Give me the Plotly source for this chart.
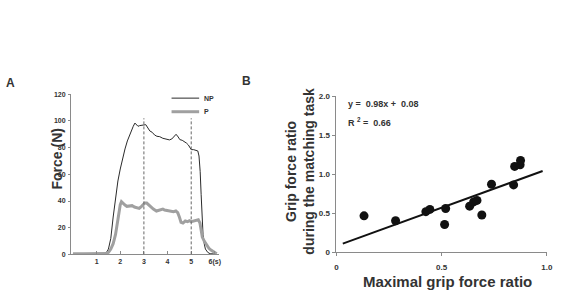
import plotly.graph_objects as go

# ---------------- Panel A data ----------------
t_np = [0.0, 0.5, 1.0, 1.3, 1.4, 1.5, 1.6, 1.7, 1.8, 1.9, 2.0, 2.1, 2.2, 2.3, 2.4, 2.5, 2.55,
        2.62, 2.68, 2.75, 2.82, 2.9, 3.0, 3.08, 3.15, 3.25, 3.35, 3.45, 3.55, 3.67, 3.8, 3.9,
        4.0, 4.08, 4.18, 4.28, 4.36, 4.45, 4.52, 4.62, 4.72, 4.8, 4.88, 4.95, 5.0, 5.1, 5.22,
        5.28, 5.33, 5.38, 5.42, 5.46, 5.5, 5.55, 5.6, 5.7, 5.8, 6.0]
f_np = [0.5, 0.5, 0.5, 0.5, 1, 4, 12, 28, 44, 55, 64, 72, 79, 85, 90, 94, 96,
        98.4, 97, 96, 96.5, 96.5, 97, 97.2, 95, 92.5, 91.5, 89.5, 88.5, 88.2, 87, 86.5,
        86, 85.8, 86.5, 88.5, 90, 88, 86, 85.5, 84.5, 83.4, 82, 80, 78.5, 78.5, 78,
        77.5, 73.7, 62, 45, 28, 15, 8, 4, 1.5, 0.5, 0.3]

t_p = [0.0, 0.5, 1.0, 1.4, 1.5, 1.6, 1.7, 1.8, 1.9, 1.95, 2.0, 2.05, 2.1, 2.2, 2.28, 2.4,
       2.5, 2.6, 2.7, 2.8, 2.9, 3.04, 3.12, 3.2, 3.3, 3.4, 3.53, 3.62, 3.7, 3.8, 3.875, 3.95,
       4.05, 4.15, 4.25, 4.35, 4.43, 4.5, 4.57, 4.65, 4.75, 4.85, 4.92, 5.0, 5.1, 5.2, 5.3,
       5.37, 5.47, 5.55, 5.65, 5.75, 5.85, 5.95, 6.03, 6.08]
f_p = [0.5, 0.5, 0.5, 0.5, 1.5, 4, 8, 15, 26, 33, 37.3, 39.5, 38.5, 37, 36, 36,
       36.5, 35.5, 35, 34.5, 36, 38.5, 38.5, 37, 35.5, 34, 32.5, 33, 34, 34, 33.2, 33,
       32.5, 32, 32, 32.5, 31.3, 28, 24, 23.5, 25, 24.5, 25.2, 24.5, 25, 25.7, 26,
       23.5, 13, 10, 7, 4.6, 3, 1.8, 0.7, 0.5]

a_xticks = [1, 2, 3, 4, 5, 6]
a_xticklabels = ["1", "2", "3", "4", "5", "6(s)"]
a_yticks = [0, 20, 40, 60, 80, 100, 120]
a_vlines = [3, 5]
a_vline_top = 102

# ---------------- Panel B data ----------------
b_x = [0.131, 0.281, 0.425, 0.444, 0.514, 0.519, 0.633, 0.652, 0.668, 0.691, 0.737,
       0.842, 0.847, 0.873, 0.875]
b_y = [0.466, 0.403, 0.519, 0.548, 0.354, 0.56, 0.59, 0.644, 0.664, 0.477, 0.871,
       0.862, 1.10, 1.12, 1.175]
fit_slope = 0.98
fit_intercept = 0.08
fit_x = [0.03, 0.98]
fit_y = [fit_slope * v + fit_intercept for v in fit_x]
b_xticks = [0, 0.5, 1.0]
b_xticklabels = ["0", "0.5", "1.0"]
b_yticks = [0, 0.5, 1.0, 1.5, 2.0]
b_yticklabels = ["0", "0.5", "1.0", "1.5", "2.0"]

W, H = 562, 305
def px(x):
    return x / W
def py(y):
    return (H - y) / H

FONT = "Liberation Sans, Arial, sans-serif"
TXT = "#333333"
AX = "#8a8a8a"

fig = go.Figure()

fig.add_trace(go.Scatter(x=t_np, y=f_np, mode="lines", line=dict(color="#2a2a2a", width=1),
                         xaxis="x", yaxis="y", showlegend=False, hoverinfo="skip"))
fig.add_trace(go.Scatter(x=t_p, y=f_p, mode="lines", line=dict(color="#a0a0a0", width=3),
                         xaxis="x", yaxis="y", showlegend=False, hoverinfo="skip"))

fig.add_trace(go.Scatter(x=fit_x, y=fit_y, mode="lines", line=dict(color="#111111", width=2),
                         xaxis="x2", yaxis="y2", showlegend=False, hoverinfo="skip"))
fig.add_trace(go.Scatter(x=b_x, y=b_y, mode="markers",
                         marker=dict(color="#111111", size=9),
                         xaxis="x2", yaxis="y2", showlegend=False, hoverinfo="skip"))

for v in a_vlines:
    fig.add_shape(type="line", xref="x", yref="y", x0=v, x1=v, y0=0, y1=a_vline_top,
                  line=dict(color="#666666", width=1, dash="3px,2px"))

# legend of panel A
leg = [("NP", 97, "#2a2a2a", 1), ("P", 111, "#a0a0a0", 3)]
for name, yy, col, w in leg:
    fig.add_shape(type="line", xref="paper", yref="paper", x0=px(172), x1=px(200),
                  y0=py(yy), y1=py(yy), line=dict(color=col, width=w))
    fig.add_annotation(x=px(203), y=py(yy), xref="paper", yref="paper", text=name,
                       showarrow=False, xanchor="left", yanchor="middle",
                       font=dict(family=FONT, size=7, color=TXT, weight="bold"))

tickA = dict(family=FONT, size=7, color=TXT, weight="bold")
tickB = dict(family=FONT, size=8, color=TXT, weight="bold")

fig.update_layout(
    width=W, height=H, margin=dict(l=0, r=0, t=0, b=0),
    paper_bgcolor="white", plot_bgcolor="white",
    xaxis=dict(domain=[px(70), px(220)], range=[-0.083, 6.17], tickvals=a_xticks,
               ticktext=a_xticklabels, ticks="inside", ticklen=3, tickcolor=AX,
               showline=True, linecolor=AX, linewidth=1, showgrid=False, zeroline=False,
               tickfont=tickA, anchor="y"),
    yaxis=dict(domain=[py(258), py(93)], range=[0, 120], tickvals=a_yticks,
               ticks="outside", ticklen=2, tickcolor=AX, showline=True, linecolor=AX,
               linewidth=1, showgrid=False, zeroline=False, tickfont=tickA, anchor="x",
               ticklabelstandoff=1),
    xaxis2=dict(domain=[px(339.3), px(552.7)], range=[0, 1.0], tickvals=b_xticks,
                ticktext=b_xticklabels, ticks="outside", ticklen=3, tickcolor=AX,
                showline=True, linecolor=AX, linewidth=1, showgrid=False, zeroline=False,
                tickfont=tickB, anchor="y2", ticklabelstandoff=4),
    yaxis2=dict(domain=[py(255.7), py(95)], range=[0, 2.0], tickvals=b_yticks,
                ticktext=b_yticklabels, ticks="outside", ticklen=3, tickcolor=AX,
                showline=True, linecolor=AX, linewidth=1, showgrid=False, zeroline=False,
                tickfont=tickB, anchor="x2", ticklabelstandoff=1),
)

ann = [
    dict(x=px(9), y=py(81), text="A", size=12, angle=0),
    dict(x=px(248), y=py(79), text="B", size=12, angle=0),
    dict(x=px(56), y=py(160), text="Force (N)", size=14, angle=-90),
    dict(x=px(302), y=py(172), text="Grip force ratio<br>during the matching task", size=14, angle=-90),
    dict(x=px(452), y=py(286), text="Maximal grip force ratio", size=15, angle=0),
]
for a in ann:
    fig.add_annotation(x=a["x"], y=a["y"], xref="paper", yref="paper", text=a["text"],
                       showarrow=False, xanchor="center", yanchor="middle",
                       textangle=a["angle"],
                       font=dict(family=FONT, size=a["size"], color=TXT, weight="bold"))

fig.add_annotation(x=px(349), y=py(103), xref="paper", yref="paper",
                   text="y =  0.98x +  0.08", showarrow=False, xanchor="left", yanchor="middle",
                   font=dict(family=FONT, size=9, color=TXT, weight="bold"))
fig.add_annotation(x=px(349), y=py(122), xref="paper", yref="paper",
                   text="R <sup>2</sup> =  0.66", showarrow=False, xanchor="left", yanchor="middle",
                   font=dict(family=FONT, size=9, color=TXT, weight="bold"))

fig.write_html("out.html")
